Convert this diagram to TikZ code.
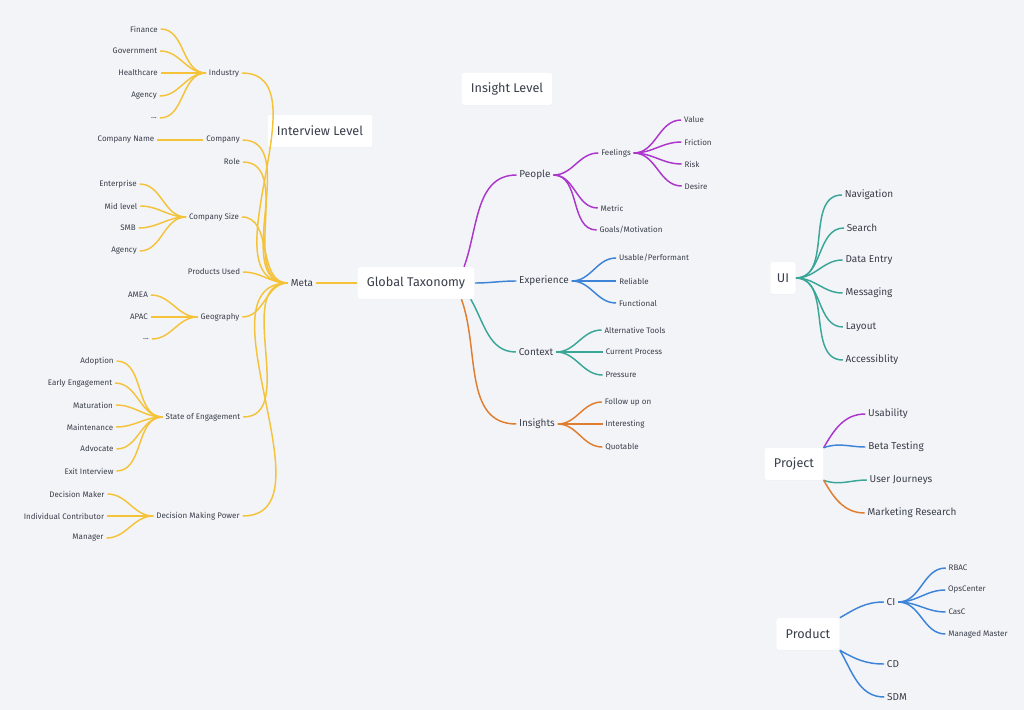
\documentclass[tikz,border=0pt]{standalone}
\usepackage{fontspec}
\setmainfont{Fira Sans}
\usetikzlibrary{shadows}
\definecolor{bg}{HTML}{F3F4F8}
\definecolor{ink}{HTML}{3A3F4B}
\definecolor{yel}{HTML}{F4C33A}
\definecolor{pur}{HTML}{AC36CC}
\definecolor{blu}{HTML}{3D84D8}
\definecolor{tea}{HTML}{3AA698}
\definecolor{ora}{HTML}{E07E30}
\tikzset{
  every node/.style={text=ink, inner sep=2pt},
  sm/.style={font=\fontsize{6}{7}\selectfont},
  md/.style={font=\fontsize{7.5}{9}\selectfont},
  box/.style={fill=white, rounded corners=2pt, font=\fontsize{9.5}{11}\selectfont,
    minimum height=24pt, inner xsep=7pt, drop shadow={opacity=0.06, shadow xshift=0pt, shadow yshift=-0.5pt}},
  ln/.style={line width=1.1pt},
}
\begin{document}
\begin{tikzpicture}[x=0.75pt,y=-0.75pt]
\fill[bg] (0,0) rectangle (1024,710);
\useasboundingbox (0,0) rectangle (1024,710);

% boxes
\node[box] (gt) at (416,283) {Global Taxonomy};
\node[box] (il) at (320,131) {Interview Level};
\node[box] (insl) at (507,89) {Insight Level};
\node[box, inner xsep=5pt] (ui) at (783,278) {UI};
\node[box] (proj) at (794,464) {Project};
\node[box] (prod) at (808,634) {Product};

% meta side
\node[md] (meta) at (302,283) {Meta};
\node[sm] (ind) at (224,73) {Industry};
\node[sm] (fin) at (144,29) {Finance};
\node[sm] (gov) at (135,51) {Government};
\node[sm] (hea) at (138,73) {Healthcare};
\node[sm] (agy) at (144,96) {Agency};
\node[sm] (dta) at (154,118) {...};
\node[sm] (com) at (223,140) {Company};
\node[sm] (cna) at (126,140) {Company Name};
\node[sm] (rol) at (232,162) {Role};
\node[sm] (csz) at (214,217) {Company Size};
\node[sm] (ent) at (118,184) {Enterprise};
\node[sm] (mid) at (121,206) {Mid level};
\node[sm] (smb) at (128,228) {SMB};
\node[sm] (agb) at (124,251) {Agency};
\node[sm] (pru) at (214,272) {Products Used};
\node[sm] (geo) at (220,317) {Geography};
\node[sm] (ame) at (138,295) {AMEA};
\node[sm] (apa) at (139,317) {APAC};
\node[sm] (dtb) at (146,339) {...};
\node[sm] (soe) at (203,417) {State of Engagement};
\node[sm] (ado) at (97,361) {Adoption};
\node[sm] (ear) at (80,383) {Early Engagement};
\node[sm] (mat) at (93,405) {Maturation};
\node[sm] (mai) at (90,427) {Maintenance};
\node[sm] (adv) at (97,449) {Advocate};
\node[sm] (exi) at (89,471) {Exit Interview};
\node[sm] (dmp) at (198,516) {Decision Making Power};
\node[sm] (dma) at (77,494) {Decision Maker};
\node[sm] (ico) at (64,516) {Individual Contributor};
\node[sm] (man) at (88,538) {Manager};

\draw[ln, yel] (gt.west) -- (meta.east);
\foreach \c in {ind,com,rol,csz,pru,geo,soe,dmp}
  \draw[ln, yel] (meta.west) to[out=180,in=0] (\c.east);
\foreach \c in {fin,gov,hea,agy,dta}
  \draw[ln, yel] (ind.west) to[out=180,in=0] (\c.east);
\draw[ln, yel] (com.west) -- (cna.east);
\foreach \c in {ent,mid,smb,agb}
  \draw[ln, yel] (csz.west) to[out=180,in=0] (\c.east);
\foreach \c in {ame,apa,dtb}
  \draw[ln, yel] (geo.west) to[out=180,in=0] (\c.east);
\foreach \c in {ado,ear,mat,mai,adv,exi}
  \draw[ln, yel] (soe.west) to[out=180,in=0] (\c.east);
\foreach \c in {dma,ico,man}
  \draw[ln, yel] (dmp.west) to[out=180,in=0] (\c.east);

% taxonomy side
\node[md] (peo) at (535,175) {People};
\node[md] (exp) at (544,281) {Experience};
\node[md] (con) at (536,352) {Context};
\node[md] (ins) at (537,424) {Insights};
\node[sm] (fee) at (616,153) {Feelings};
\node[sm] (met) at (612,208) {Metric};
\node[sm] (goa) at (631,230) {Goals/Motivation};
\node[sm] (val) at (694,120) {Value};
\node[sm] (fri) at (698,142) {Friction};
\node[sm] (ris) at (692,164) {Risk};
\node[sm] (des) at (696,186) {Desire};
\node[sm] (usa) at (654,258) {Usable/Performant};
\node[sm] (rel) at (634,281) {Reliable};
\node[sm] (fun) at (638,303) {Functional};
\node[sm] (alt) at (635,330) {Alternative Tools};
\node[sm] (cur) at (634,352) {Current Process};
\node[sm] (pre) at (621,375) {Pressure};
\node[sm] (fol) at (628,402) {Follow up on};
\node[sm] (int) at (625,424) {Interesting};
\node[sm] (quo) at (622,447) {Quotable};

\draw[ln, pur] ([xshift=-8pt]gt.north east) to[out=70,in=180] (peo.west);
\draw[ln, blu] (gt.east) to[out=0,in=180] (exp.west);
\draw[ln, tea] ([xshift=-3pt]gt.south east) to[out=-60,in=180] (con.west);
\draw[ln, ora] ([xshift=-10pt]gt.south east) to[out=-70,in=180] (ins.west);
\foreach \c in {fee,met,goa}
  \draw[ln, pur] (peo.east) to[out=0,in=180] (\c.west);
\foreach \c in {val,fri,ris,des}
  \draw[ln, pur] (fee.east) to[out=0,in=180] (\c.west);
\foreach \c in {usa,rel,fun}
  \draw[ln, blu] (exp.east) to[out=0,in=180] (\c.west);
\foreach \c in {alt,cur,pre}
  \draw[ln, tea] (con.east) to[out=0,in=180] (\c.west);
\foreach \c in {fol,int,quo}
  \draw[ln, ora] (ins.east) to[out=0,in=180] (\c.west);

% UI
\node[md] (nav) at (869,195) {Navigation};
\node[md] (sea) at (862,228) {Search};
\node[md] (den) at (869,260) {Data Entry};
\node[md] (mes) at (869,293) {Messaging};
\node[md] (lay) at (861,327) {Layout};
\node[md] (acc) at (872,360) {Accessiblity};
\foreach \c in {nav,sea,den,mes,lay,acc}
  \draw[ln, tea] (ui.east) to[out=0,in=180] (\c.west);

% project
\node[md] (usb) at (888,414) {Usability};
\node[md] (bet) at (896,447) {Beta Testing};
\node[md] (usj) at (901,480) {User Journeys};
\node[md] (mar) at (912,513) {Marketing Research};
\draw[ln, pur] (proj.north east) to[out=60,in=180] (usb.west);
\draw[ln, blu] (proj.north east) to[out=20,in=180] (bet.west);
\draw[ln, tea] (proj.south east) to[out=-20,in=180] (usj.west);
\draw[ln, ora] (proj.south east) to[out=-60,in=180] (mar.west);

% product
\node[md] (ci) at (891,602) {CI};
\node[md] (cd) at (893,664) {CD};
\node[md] (sdm) at (897,697) {SDM};
\node[sm] (rba) at (958,568) {RBAC};
\node[sm] (ops) at (967,590) {OpsCenter};
\node[sm] (cas) at (957,612) {CasC};
\node[sm] (mma) at (978,634) {Managed Master};
\draw[ln, blu] (prod.north east) to[out=30,in=180] (ci.west);
\draw[ln, blu] (prod.south east) to[out=-30,in=180] (cd.west);
\draw[ln, blu] (prod.south east) to[out=-60,in=180] (sdm.west);
\foreach \c in {rba,ops,cas,mma}
  \draw[ln, blu] (ci.east) to[out=0,in=180] (\c.west);
\end{tikzpicture}
\end{document}
